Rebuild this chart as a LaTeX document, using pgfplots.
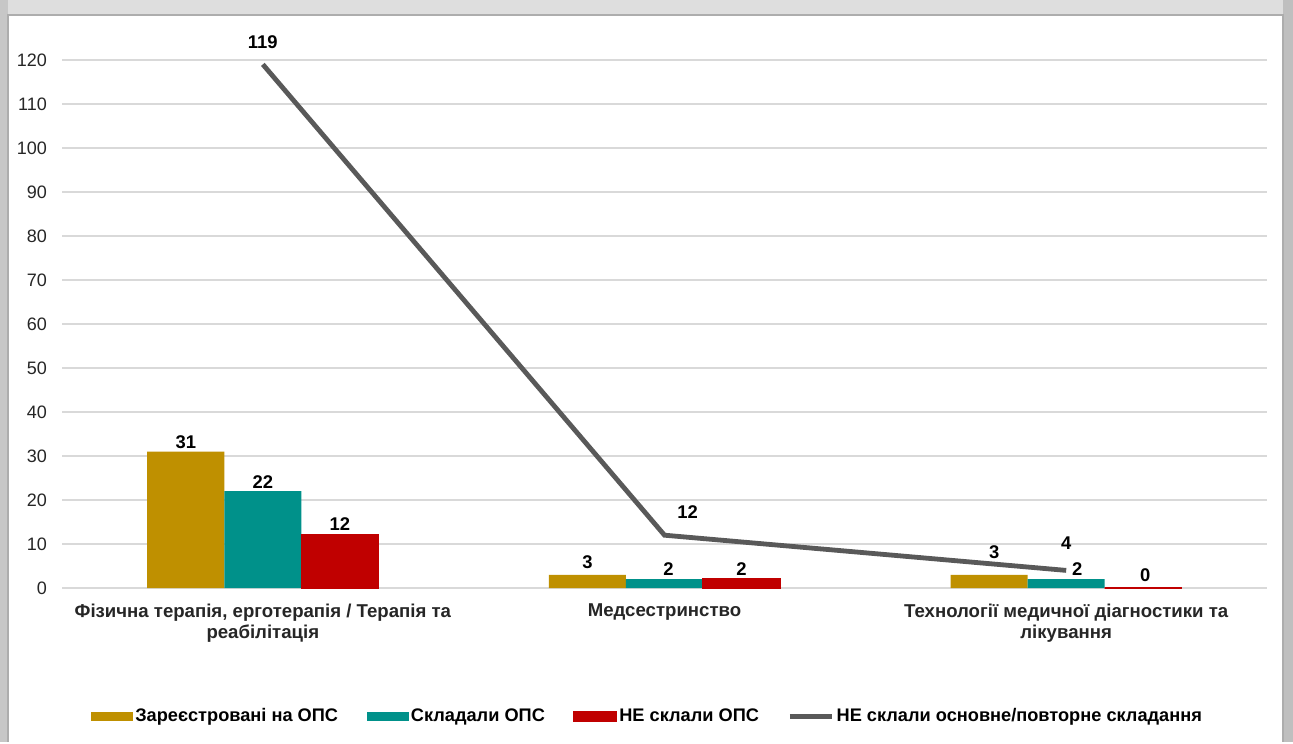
\documentclass[border=0pt]{standalone}
\usepackage{pgfplots}
\pgfplotsset{compat=1.18}
\usepackage{pgfplotstable}
\usepackage{fontspec}
\setmainfont{Liberation Sans}

\definecolor{cgold}{HTML}{BF9000}
\definecolor{cteal}{HTML}{00918A}
\definecolor{cred}{HTML}{C00000}
\definecolor{cline}{HTML}{595959}
\definecolor{cgrid}{HTML}{D9D9D9}

% x  y  label offsets dx dy (pt, dx includes the bar shift)
\pgfplotstableread{
x y dx dy
0 31 -38.5 4.5
1 3 -38.5 6.5
2 3 -36 11.5
}\gold
\pgfplotstableread{
x y dx dy
0 22 0 4.5
1 2 2 5
2 2 5.5 5
}\teal
\pgfplotstableread{
x y dx dy
0 12 38.5 5.5
1 2 38.5 5
2 0 39.5 6.5
}\red
\pgfplotstableread{
x y dx dy
0 119 0 11
1 12 11.5 11.5
2 4 0 13.5
}\fail

\begin{document}
\begin{tikzpicture}
% frame
\fill[black!13] (0,0) rectangle (646.5pt,371pt);
\fill[black!22] (0,0) rectangle (4pt,371pt);
\fill[black!25] (641.5pt,0) rectangle (646.5pt,371pt);
\fill[white] (4pt,0) rectangle (641.5pt,363.5pt);
\draw[black!32, line width=1.2pt] (4pt,0) -- (4pt,363.5pt) -- (641.5pt,363.5pt) -- (641.5pt,0);

\begin{axis}[
  at={(31pt,77pt)}, anchor=south west,
  scale only axis, width=602.5pt, height=264pt,
  xmin=-0.5, xmax=2.5, ymin=0, ymax=120,
  clip=false,
  axis line style={draw=none},
  major tick length=0pt,
  ymajorgrids, grid style={cgrid, line width=0.6pt},
  ytick={0,10,...,120},
  xtick={0,1,2},
  xticklabels={{Фізична терапія, ерготерапія / Терапія та\\реабілітація},
    Медсестринство,
    {Технології медичної діагностики та\\лікування}},
  xticklabel style={align=center, yshift=-4.5pt,
    font=\bfseries\fontsize{9.3}{10.5}\selectfont, text=black!85},
  yticklabel style={xshift=-4pt, font=\fontsize{9}{10}\selectfont, text=black!85},
  /pgf/number format/assume math mode=true,
  visualization depends on={\thisrow{dx} \as \dx},
  visualization depends on={\thisrow{dy} \as \dy},
  nodes near coords,
  every node near coord/.append style={anchor=center, inner sep=0pt,
    xshift=\dx pt, yshift=\dy pt, text=black,
    font=\bfseries\fontsize{9.2}{10}\selectfont},
  legend columns=4,
  legend style={at={(0.486,-0.244)}, anchor=center, draw=none,
    font=\bfseries\fontsize{9.1}{10}\selectfont,
    /tikz/every even column/.append style={column sep=13pt},
    nodes={inner sep=1.2pt}},
  legend cell align=left,
]
\addplot[ybar, bar width=0.192, bar shift=-0.192, fill=cgold, draw=none,
  legend image code/.code={\fill[cgold] (0pt,-2.3pt) rectangle (21pt,2.3pt);}]
  table[x=x, y=y] {\gold};
\addlegendentry{Зареєстровані на ОПС}
\addplot[ybar, bar width=0.192, bar shift=0, fill=cteal, draw=none,
  legend image code/.code={\fill[cteal] (0pt,-2.3pt) rectangle (21pt,2.3pt);}]
  table[x=x, y=y] {\teal};
\addlegendentry{Складали ОПС}
\addplot[ybar, bar width=0.192, bar shift=0.192, fill=cred, draw=cred, line width=0.8pt,
  legend image code/.code={\fill[cred] (0pt,-2.3pt) rectangle (21pt,2.3pt);}]
  table[x=x, y=y] {\red};
\addlegendentry{НЕ склали ОПС}
\addplot[sharp plot, color=cline, line width=2.4pt, mark=none,
  legend image code/.code={\draw[cline, line width=2.4pt] (0pt,0pt) -- (21pt,0pt);}]
  table[x=x, y=y] {\fail};
\addlegendentry{НЕ склали основне/повторне складання}
\end{axis}
\end{tikzpicture}
\end{document}
